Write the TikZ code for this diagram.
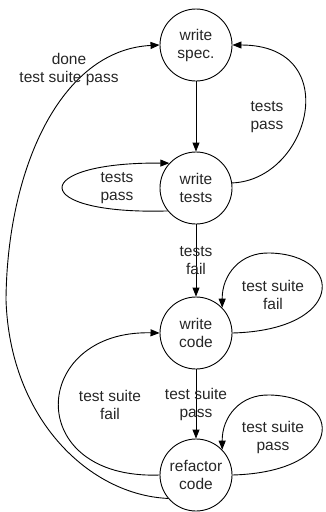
\documentclass[tikz,border=0pt]{standalone}
\usepackage{fontspec}
\setmainfont{Liberation Sans}
\usetikzlibrary{arrows.meta}
\begin{document}
\begin{tikzpicture}[x=1pt, y=-1pt, >={Triangle[length=9pt,width=7pt]},
    state/.style={draw, circle, line width=0.9pt, minimum size=72pt, inner sep=0pt, align=center},
    lbl/.style={align=center, inner sep=0pt},
    every node/.append style={font=\fontsize{15.5}{18}\selectfont, text=black!85}]
    \useasboundingbox (0,0) rectangle (325,512);

    \node[state] (spec) at (196,45) {write\\spec.};
    \node[state] (tests) at (196,188) {write\\tests};
    \node[state] (code) at (196,333) {write\\code};
    \node[state] (refac) at (196,475) {refactor\\code};

    \draw[->, line width=0.9pt] (spec) -- (tests);
    \draw[->, line width=0.9pt] (tests) -- (code)
        node[lbl, midway] {tests\\fail};
    \draw[->, line width=0.9pt] (code) -- (refac)
        node[lbl, midway] {test suite\\pass};

    % back edges and loops
    \draw[->, line width=0.9pt] (tests.8) .. controls (310,180) and (345,45) .. (spec.east);
    \node[lbl] (lpass) at (267,117) {tests\\pass};

    \draw[->, line width=0.9pt] (tests.219) .. controls (28,215) and (28,162) .. (tests.137);
    \node[lbl] (lloop) at (117,188) {tests\\pass};

    \draw[->, line width=0.9pt] (code.east) .. controls (345,330) and (345,255) .. (270,253)
        .. controls (240,252) and (222,275) .. (code.44);
    \node[lbl] (lcfail) at (273,295) {test suite\\fail};

    \draw[->, line width=0.9pt] (refac.east) .. controls (345,472) and (345,397) .. (270,395)
        .. controls (240,394) and (222,417) .. (refac.44);
    \node[lbl] (lrpass) at (273,437) {test suite\\pass};

    \draw[->, line width=0.9pt] (refac.west) .. controls (22,480) and (30,330) .. (code.west);
    \node[lbl] (lrfail) at (110,405) {test suite\\fail};

    \draw[->, line width=0.9pt] (refac.220) .. controls (90,495) and (10,420) .. (6,300)
        .. controls (7,170) and (60,50) .. (spec.west);
    \node[lbl] (ldone) at (69,69) {done\\test suite pass};
\end{tikzpicture}
\end{document}
